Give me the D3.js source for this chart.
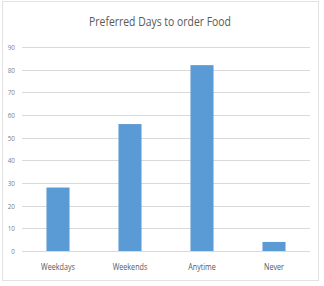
<!DOCTYPE html>
<html>
<head>
<meta charset="utf-8">
<script src="https://cdn.jsdelivr.net/npm/d3@7"></script>
<style>
  body { margin: 0; background: #fff; }
  svg { display: block; font-family: "Open Sans", sans-serif; }
</style>
</head>
<body>
<svg width="324" height="286"></svg>
<script>
const categories = ["Weekdays", "Weekends", "Anytime", "Never"];
const values = [28, 56, 82, 4];
const yTicks = [0, 10, 20, 30, 40, 50, 60, 70, 80, 90];

const svg = d3.select("svg");
const plotLeft = 22, plotRight = 310, plotTop = 47, plotBottom = 251;
const squeeze = 0.8; // police plus étroite, façon Calibri

// cadre du graphique
svg.append("rect")
    .attr("x", 2.5).attr("y", 1.5)
    .attr("width", 316).attr("height", 279)
    .attr("fill", "#fff")
    .attr("stroke", "#e2e2e2");

svg.append("text")
    .attr("transform", `translate(160,26) scale(${squeeze},1)`)
    .attr("text-anchor", "middle")
    .attr("fill", "#595959")
    .attr("font-size", 13)
    .text("Preferred Days to order Food");

const x = d3.scaleBand().domain(categories).range([plotLeft, plotRight]).paddingInner(0.68).paddingOuter(0.34);
const y = d3.scaleLinear().domain([0, 90]).range([plotBottom, plotTop]);

// lignes de grille
svg.append("g")
  .selectAll("line")
  .data(yTicks)
  .join("line")
    .attr("x1", plotLeft).attr("x2", plotRight)
    .attr("y1", d => Math.round(y(d)) + 0.5)
    .attr("y2", d => Math.round(y(d)) + 0.5)
    .attr("stroke", "#d9d9d9");

svg.append("g")
  .selectAll("text")
  .data(yTicks)
  .join("text")
    .attr("transform", d => `translate(15,${y(d) + 3}) scale(${squeeze},1)`)
    .attr("text-anchor", "end")
    .attr("fill", "#7f7f7f")
    .attr("font-size", 8)
    .text(d => d);

svg.append("g")
  .selectAll("rect")
  .data(values)
  .join("rect")
    .attr("x", (d, i) => x(categories[i]))
    .attr("width", x.bandwidth())
    .attr("y", d => y(d))
    .attr("height", d => y(0) - y(d))
    .attr("fill", "#5b9bd5");

svg.append("g")
  .selectAll("text")
  .data(categories)
  .join("text")
    .attr("transform", d => `translate(${x(d) + x.bandwidth() / 2},270) scale(${squeeze},1)`)
    .attr("text-anchor", "middle")
    .attr("fill", "#595959")
    .attr("font-size", 9)
    .text(d => d);
</script>
</body>
</html>
